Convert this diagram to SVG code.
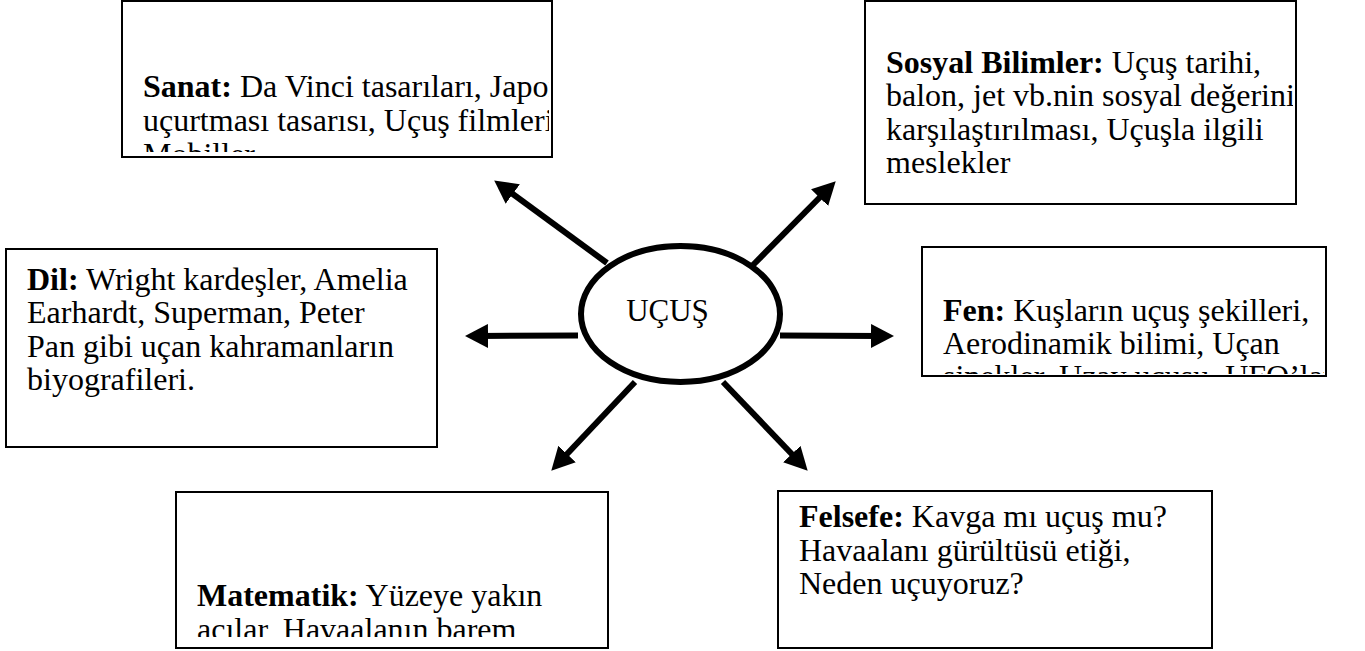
<svg xmlns="http://www.w3.org/2000/svg" width="1365" height="651" viewBox="0 0 1365 651">
<style>
.box{fill:#fff;stroke:#000;stroke-width:2}
.t{font-family:"Liberation Serif","Times New Roman",serif;font-size:32px;fill:#000}
.b{font-weight:bold}
.conn line{stroke:#000;stroke-width:6;fill:none}
.hub{fill:#fff;stroke:#000;stroke-width:6}
</style>
<defs>
<marker id="ah" markerUnits="userSpaceOnUse" markerWidth="23" markerHeight="24" refX="10" refY="12" orient="auto" viewBox="0 0 23 24">
<path d="M0,0 L23,12 L0,24 z" fill="#000"/>
</marker>
<clipPath id="cSanat"><rect x="124" y="3" width="425" height="149"/></clipPath>
<clipPath id="cSosyal"><rect x="867" y="3" width="426" height="199"/></clipPath>
<clipPath id="cFen"><rect x="924" y="249" width="400" height="125"/></clipPath>
<clipPath id="cMat"><rect x="178" y="494" width="428" height="143"/></clipPath>
</defs>

<g class="conn" id="connectors">
<line x1="607" y1="263" x2="504.7" y2="188.1" marker-end="url(#ah)"/>
<line x1="753" y1="265" x2="826.6" y2="190.5" marker-end="url(#ah)"/>
<line x1="578" y1="335.5" x2="478" y2="336" marker-end="url(#ah)"/>
<line x1="780" y1="335.5" x2="881" y2="336" marker-end="url(#ah)"/>
<line x1="635" y1="382" x2="560.2" y2="461.3" marker-end="url(#ah)"/>
<line x1="723" y1="382" x2="798.7" y2="461.3" marker-end="url(#ah)"/>
</g>

<g id="ucus">
<ellipse class="hub" cx="680.5" cy="314" rx="99.5" ry="68"/>
<text class="t" x="667.5" y="321" text-anchor="middle" style="font-size:31px">UÇUŞ</text>
</g>

<g id="sanat">
<rect class="box" x="122" y="1" width="430" height="156"/>
<g clip-path="url(#cSanat)">
<text class="t" x="143" y="97"><tspan class="b">Sanat:</tspan> Da Vinci tasarıları, Japon</text>
<text class="t" x="143" y="131">uçurtması tasarısı, Uçuş filmleri,</text>
<text class="t" x="143" y="165">Mobiller</text>
</g>
</g>

<g id="sosyal">
<rect class="box" x="865" y="1" width="431" height="203"/>
<g clip-path="url(#cSosyal)">
<text class="t" x="886" y="73"><tspan class="b">Sosyal Bilimler:</tspan> Uçuş tarihi,</text>
<text class="t" x="886" y="106">balon, jet vb.nin sosyal değerinin</text>
<text class="t" x="886" y="139.5">karşılaştırılması, Uçuşla ilgili</text>
<text class="t" x="886" y="173">meslekler</text>
</g>
</g>

<g id="dil">
<rect class="box" x="6" y="249" width="431" height="198"/>
<text class="t" x="27" y="290"><tspan class="b">Dil:</tspan> Wright kardeşler, Amelia</text>
<text class="t" x="27" y="323">Earhardt, Superman, Peter</text>
<text class="t" x="27" y="356.5">Pan gibi uçan kahramanların</text>
<text class="t" x="27" y="390">biyografileri.</text>
</g>

<g id="fen">
<rect class="box" x="922" y="247" width="404" height="129"/>
<g clip-path="url(#cFen)">
<text class="t" x="943" y="321"><tspan class="b">Fen:</tspan> Kuşların uçuş şekilleri,</text>
<text class="t" x="943" y="354">Aerodinamik bilimi, Uçan</text>
<text class="t" x="943" y="387">sinekler, Uzay uçuşu, UFO’lar</text>
</g>
</g>

<g id="matematik">
<rect class="box" x="176" y="492" width="432" height="156"/>
<g clip-path="url(#cMat)">
<text class="t" x="197" y="606"><tspan class="b">Matematik:</tspan> Yüzeye yakın</text>
<text class="t" x="197" y="640">açılar, Havaalanın barem</text>
</g>
</g>

<g id="felsefe">
<rect class="box" x="778" y="491" width="434" height="157"/>
<text class="t" x="799" y="527"><tspan class="b">Felsefe:</tspan> Kavga mı uçuş mu?</text>
<text class="t" x="799" y="561">Havaalanı gürültüsü etiği,</text>
<text class="t" x="799" y="594">Neden uçuyoruz?</text>
</g>
</svg>
